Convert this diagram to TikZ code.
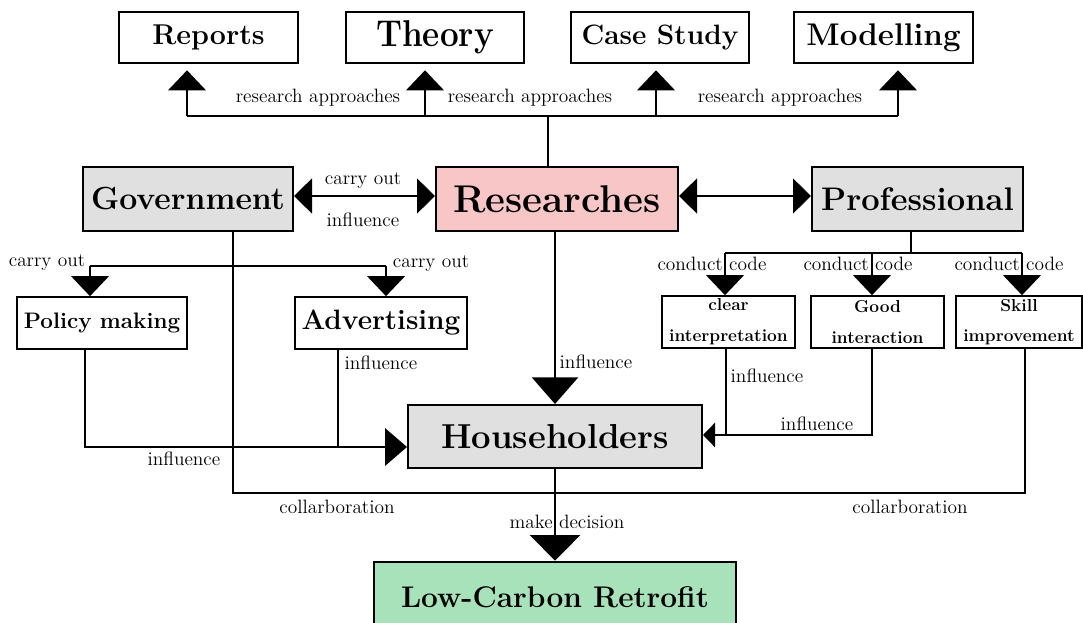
\documentclass[tikz,border=0pt]{standalone}
\usepackage{tikz}
\usepackage{graphicx}
\usetikzlibrary{arrows.meta}
\definecolor{boxgray}{RGB}{224,224,224}
\definecolor{respink}{RGB}{248,198,198}
\definecolor{retgreen}{RGB}{168,226,186}

\begin{document}
\begin{tikzpicture}[x=0.75pt,y=0.75pt,yscale=-1,xscale=1,
  box/.style={draw,line width=1.2pt,inner sep=0pt,align=center},
  bf/.style={font=\bfseries\fontsize{#1}{#1}\selectfont},
  twoline/.style={font=\bfseries\fontsize{13}{23}\selectfont},
  lab/.style={inner sep=0pt,font=\fontsize{14.5}{16}\selectfont},
  ln/.style={line width=2.1pt},
  tri/.style={ln,-{Triangle[length=15pt,width=28pt]}},
  dbl/.style={ln,{Triangle[length=13.5pt,width=26pt]}-{Triangle[length=13.5pt,width=26pt]}},
  bigtri/.style={ln,-{Triangle[length=20pt,width=34.5pt]}},
  smalltri/.style={ln,-{Triangle[length=9pt,width=18pt]}}]
\clip (0,0) rectangle (1083,623);

% Text Node
\node[box,bf=21.5,minimum width=134pt,minimum height=38pt] (rep) at (208.5,37.5) {Reports};
% Text Node
\node[box,bf=28,minimum width=133.5pt,minimum height=38pt] (thy) at (435,37.5) {\scalebox{0.89}[1]{Theory}};
% Text Node
\node[box,bf=21,minimum width=133.5pt,minimum height=38pt] (cs) at (660,37.5) {Case Study};
% Text Node
\node[box,bf=23.5,minimum width=134pt,minimum height=38pt] (mdl) at (883.5,37.5) {Modelling};
% Text Node
\node[box,bf=24,fill=boxgray,line width=1.5pt,minimum width=157.5pt,minimum height=48pt] (gov) at (188,199) {Government};
% Text Node
\node[box,bf=29,fill=respink,line width=1.5pt,minimum width=181.5pt,minimum height=48pt] (res) at (557,199) {Researches};
% Text Node
\node[box,bf=24.5,fill=boxgray,line width=1.5pt,minimum width=158.25pt,minimum height=48pt] (prof) at (917.5,199) {Professional};
% Text Node
\node[box,bf=16.8,minimum width=127.5pt,minimum height=39pt] (policy) at (102,323) {Policy making};
% Text Node
\node[box,bf=21,minimum width=129pt,minimum height=39pt] (adv) at (381,323) {Advertising};
% Text Node
\node[box,twoline,minimum width=99.75pt,minimum height=39pt] (clear) at (728.5,322) {clear\\interpretation};
% Text Node
\node[box,twoline,minimum width=99.75pt,minimum height=39pt] (good) at (877.5,322) {Good\\interaction};
% Text Node
\node[box,twoline,minimum width=94.5pt,minimum height=39pt] (skill) at (1019,322) {Skill\\improvement};
% Text Node
\node[box,bf=26,fill=boxgray,line width=1.5pt,minimum width=220.5pt,minimum height=47.25pt] (house) at (555,436.5) {Householders};
% Text Node
\node[box,bf=22.4,fill=retgreen,line width=2.2pt,minimum width=271.5pt,minimum height=52.5pt] (lcr) at (555,597) {Low-Carbon Retrofit};

% Labels
\node[lab] (ra1) at (318,98) {research approaches};
\node[lab] (ra2) at (530,98) {research approaches};
\node[lab] (ra3) at (780,98) {research approaches};
\node[lab] (gco) at (363,181) {carry out};
\node[lab] (gin) at (363,220) {influence};
\node[lab] (pco) at (47,263) {carry out};
\node[lab] (aco) at (431,264) {carry out};
\node[lab] (ain) at (381,363) {influence};
\node[lab] (pin) at (184,459) {influence};
\node[lab] (rin) at (596,362) {influence};
\node[lab] (cin) at (767,376) {influence};
\node[lab] (gdin) at (817,424) {influence};
\node[lab] (cc1) at (712,264) {conduct code};
\node[lab] (cc2) at (858,264) {conduct code};
\node[lab] (cc3) at (1009,264) {conduct code};
\node[lab] (col1) at (337,507) {collarboration};
\node[lab] (col2) at (910,507) {collarboration};
\node[lab] (mkd) at (567,522) {make decision};

% Junction points
\coordinate (rtop) at (548,116);
\coordinate (ja) at (187,116);
\coordinate (jb) at (425,116);
\coordinate (jc) at (656,116);
\coordinate (jd) at (898,116);
\coordinate (gl) at (90,266);
\coordinate (gr) at (386,266);
\coordinate (cl) at (233,493);
\coordinate (cr) at (1025,493);
\coordinate (pl) at (85,447);
\coordinate (al) at (338,447);
\coordinate (pb) at (911,253);
\coordinate (b1) at (725,253);
\coordinate (b2) at (872,253);
\coordinate (b3) at (1022,253);
\coordinate (h1) at (726,435);
\coordinate (h2) at (872,435);

% Connection
\draw[ln] (rtop |- res.north) -- (rtop);
% Connection
\draw[ln] (ja) -- (jd);
\draw[tri,shorten >=5pt] (ja) -- (ja |- rep.south);
\draw[tri,shorten >=5pt] (jb) -- (jb |- thy.south);
\draw[tri,shorten >=5pt] (jc) -- (jc |- cs.south);
\draw[tri,shorten >=5pt] (jd) -- (jd |- mdl.south);
% Connection
\draw[dbl] ([yshift=-2.25pt]gov.east) -- ([yshift=-2.25pt]res.west);
\draw[dbl] ([yshift=-2.25pt]res.east) -- ([yshift=-2.25pt]prof.west);
% Connection
\draw[ln] (cl |- gov.south) -- (cl) -- (cr) -- (cr |- skill.south);
% Connection
\draw[ln] (gl) -- (gr);
\draw[tri] (gl) -- (gl |- policy.north);
\draw[tri] (gr) -- (gr |- adv.north);
% Connection
\draw[ln,-{Triangle[length=16.5pt,width=28pt]}] (pl |- policy.south) -- (pl) -- (house.west |- pl);
\draw[ln] (al |- adv.south) -- (al);
% Connection
\draw[bigtri] (res.south -| house.north) -- (house.north);
% Connection
\draw[ln] (pb |- prof.south) -- (pb);
\draw[ln] (b1) -- (b3);
\draw[tri] (b1) -- (b1 |- clear.north);
\draw[tri] (b2) -- (b2 |- good.north);
\draw[tri] (b3) -- (b3 |- skill.north);
% Connection
\draw[smalltri] (h2 |- good.south) -- (h2) -- (house.east |- h2);
\draw[ln] (h1 |- clear.south) -- (h1);
% Connection
\draw[ln,-{Triangle[length=19pt,width=37.5pt]}] (house.south) -- (lcr.north);

\end{tikzpicture}
\end{document}
